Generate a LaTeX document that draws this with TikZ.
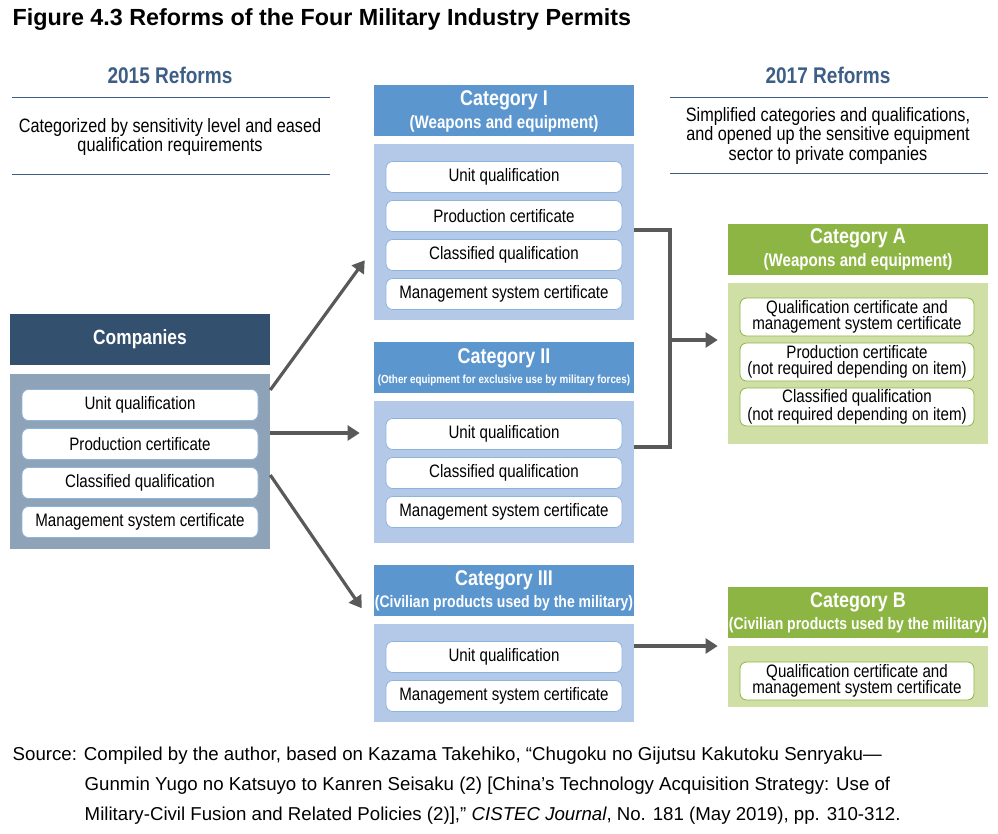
\documentclass[tikz,border=0pt]{standalone}
\usepackage{fontspec}
\setmainfont{Liberation Sans}
\newfontfamily\narrow[FakeStretch=0.84]{Liberation Sans}
\usetikzlibrary{positioning, arrows.meta}
\definecolor{navy}{HTML}{33506E}
\definecolor{slate}{HTML}{8FA3B8}
\definecolor{midblue}{HTML}{5B96CF}
\definecolor{paleblue}{HTML}{B4C8E7}
\definecolor{leaf}{HTML}{8DB544}
\definecolor{paleleaf}{HTML}{CFDFA5}
\definecolor{headblue}{HTML}{3D5F85}
\definecolor{arrowgray}{HTML}{595959}
\newcommand\fs[1]{\fontsize{#1}{#1}\selectfont}
\tikzset{
  head/.style={fill=midblue, text=white, font=\narrow\bfseries, align=center, inner sep=0pt, minimum width=260*0.75pt, minimum height=51*0.75pt},
  body/.style={fill=paleblue, inner sep=0pt, minimum width=260*0.75pt},
  item/.style={rounded corners=5pt, fill=white, draw=midblue!70, line width=0.6pt, font=\narrow\fs{13.5}, align=center, inner sep=0pt, minimum width=236*0.75pt, minimum height=31*0.75pt},
  twoline/.style={item, draw=leaf, minimum width=234*0.75pt, minimum height=38*0.75pt, font=\narrow\fontsize{13.5}{12.5}\selectfont},
  arrow/.style={line width=2.4pt, arrowgray, -{Triangle[length=9pt,width=11pt]}},
  rule/.style={headblue, line width=0.6pt}
}
\begin{document}
\begin{tikzpicture}[x=0.75pt, y=-0.75pt]
  \useasboundingbox (0,0) rectangle (998,834);
  \node[anchor=west, font=\bfseries\fs{17.5}] (title) at (8,20) {Figure 4.3 Reforms of the Four Military Industry Permits};

  % 2015 side
  \node[font=\narrow\bfseries\fs{17}, text=headblue] (r15) at (170,75) {2015 Reforms};
  \draw[rule] (12,97) -- (330,97);
  \draw[rule] (12,174) -- (330,174);
  \node[font=\narrow\fontsize{14.5}{14.5}\selectfont, align=center] (t15) at (170,137) {Categorized by sensitivity level and eased\\qualification requirements};

  % 2017 side
  \node[font=\narrow\bfseries\fs{17}, text=headblue] (r17) at (828,75) {2017 Reforms};
  \draw[rule] (670,97) -- (988,97);
  \draw[rule] (670,173) -- (988,173);
  \node[font=\narrow\fontsize{14.5}{14.5}\selectfont, align=center] (t17) at (828,136) {Simplified categories and qualifications,\\and opened up the sensitive equipment\\sector to private companies};

  % companies
  \node[head, fill=navy, font=\narrow\bfseries\fs{15.5}] (comp) at (140,339) {Companies};
  \node[body, fill=slate, minimum height=175*0.75pt] (compb) at (140,461.5) {};
  \node[item] (c1) at (140,405) {Unit qualification};
  \node[item] (c2) at (140,444) {Production certificate};
  \node[item] (c3) at (140,483) {Classified qualification};
  \node[item] (c4) at (140,522) {Management system certificate};

  % category I
  \node[head] (cat1) at (504,111) {{\fs{16}Category I}\\[3pt]{\fs{13.5}(Weapons and equipment)}};
  \node[body, minimum height=176*0.75pt] (cat1b) at (504,232) {};
  \node[item] (a1) at (504,177) {Unit qualification};
  \node[item] (a2) at (504,216) {Production certificate};
  \node[item] (a3) at (504,255) {Classified qualification};
  \node[item] (a4) at (504,294) {Management system certificate};

  % category II
  \node[head] (cat2) at (504,367.5) {{\fs{16}Category II}\\[3pt]{\fs{8.8}(Other equipment for exclusive use by military forces)}};
  \node[body, minimum height=142*0.75pt] (cat2b) at (504,472) {};
  \node[item] (b1) at (504,434) {Unit qualification};
  \node[item] (b2) at (504,473) {Classified qualification};
  \node[item] (b3) at (504,512) {Management system certificate};

  % category III
  \node[head] (cat3) at (504,590.5) {{\fs{16}Category III}\\[3pt]{\fs{12.5}(Civilian products used by the military)}};
  \node[body, minimum height=98*0.75pt] (cat3b) at (504,673) {};
  \node[item] (d1) at (504,657) {Unit qualification};
  \node[item] (d2) at (504,696) {Management system certificate};

  % category A
  \node[head, fill=leaf] (catA) at (858,249.5) {{\fs{16}Category A}\\[3pt]{\fs{13.5}(Weapons and equipment)}};
  \node[body, fill=paleleaf, minimum height=161*0.75pt] (catAb) at (858,363.5) {};
  \node[twoline] (e1) at (857,317) {Qualification certificate and\\management system certificate};
  \node[twoline] (e2) at (857,362) {Production certificate\\(not required depending on item)};
  \node[twoline] (e3) at (857,407) {Classified qualification\\(not required depending on item)};

  % category B
  \node[head, fill=leaf] (catB) at (858,612.5) {{\fs{16}Category B}\\[3pt]{\fs{12.5}(Civilian products used by the military)}};
  \node[body, fill=paleleaf, minimum height=61*0.75pt] (catBb) at (858,676.5) {};
  \node[twoline] (f1) at (857,681) {Qualification certificate and\\management system certificate};

  % connectors
  \coordinate (join) at (670,340);
  \draw[arrow] ([yshift=71.5*0.75pt]compb.east) -- ([xshift=-9*0.75pt,yshift=60*0.75pt]cat1b.south west);
  \draw[arrow] ([yshift=28.5*0.75pt]compb.east) -- ([xshift=-14*0.75pt,yshift=39*0.75pt]cat2b.west);
  \draw[arrow] ([yshift=-13.5*0.75pt]compb.east) -- ([xshift=-12*0.75pt,yshift=8*0.75pt]cat3.south west);
  \draw[arrowgray, line width=2.4pt] ([yshift=2*0.75pt]cat1b.east) -| (join) |- ([yshift=25*0.75pt]cat2b.east);
  \draw[arrow] (join) -- ([xshift=-10*0.75pt]catAb.west |- join);
  \draw[arrow] ([yshift=27*0.75pt]cat3b.east) -- ([xshift=-10*0.75pt,yshift=30.5*0.75pt]catBb.west);

  % source
  \node[anchor=north west, align=left, font=\fontsize{14}{22.5}\selectfont] (src) at (8,742) {Source: Compiled by the author, based on Kazama Takehiko, “Chugoku no Gijutsu Kakutoku Senryaku—\\\hspace*{54pt}Gunmin Yugo no Katsuyo to Kanren Seisaku (2) [China’s Technology Acquisition Strategy: Use of\\\hspace*{54pt}Military-Civil Fusion and Related Policies (2)],” \textit{CISTEC Journal}, No. 181 (May 2019), pp. 310-312.};
\end{tikzpicture}
\end{document}
